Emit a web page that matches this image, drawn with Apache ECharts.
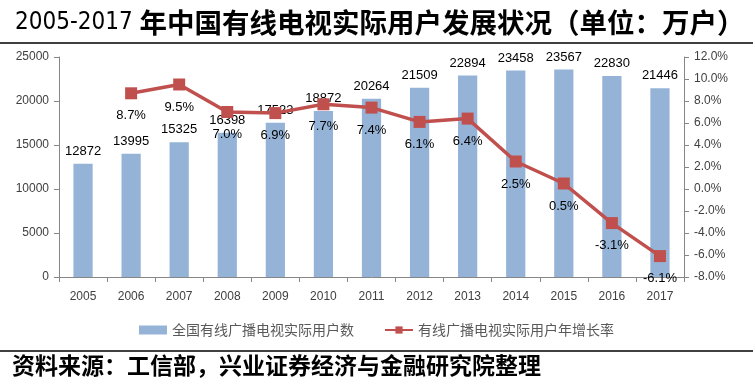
<!DOCTYPE html>
<html>
<head>
<meta charset="utf-8">
<script src="https://cdn.jsdelivr.net/npm/echarts@6/dist/echarts.min.js"></script>
<style>
html,body{margin:0;padding:0;background:#fff;}
#chart{width:753px;height:383px;}
</style>
</head>
<body>
<div id="chart"></div>
<script>
var years = ['2005','2006','2007','2008','2009','2010','2011','2012','2013','2014','2015','2016','2017'];
var users = [12872,13995,15325,16398,17523,18872,20264,21509,22894,23458,23567,22830,21446];
var growth = ['-',8.7,9.5,7.0,6.9,7.7,7.4,6.1,6.4,2.5,0.5,-3.1,-6.1];
var leftTicks = {min:0, max:25000, interval:5000};
var rightTicks = {min:-8, max:12, interval:2};
var titleNum = '2005-2017 ';
var titleText = '年中国有线电视实际用户发展状况（单位：万户）';
var sourceText = '资料来源：工信部，兴业证券经济与金融研究院整理';
var barName = '全国有线广播电视实际用户数';
var lineName = '有线广播电视实际用户年增长率';

var chart = echarts.init(document.getElementById('chart'));
var numFont = '"Liberation Sans", Arial, sans-serif';
var cjkFont = '"Noto Sans CJK SC", sans-serif';
chart.setOption({
  backgroundColor:'#fff',
  animation:false,
  title:{
    left:10, top:4,
    text:'{a|'+titleNum+'}{b|'+titleText+'}',
    textStyle:{
      rich:{
        a:{fontFamily:'"DejaVu Sans Condensed", "Liberation Sans", sans-serif', fontSize:24, fontWeight:'normal', color:'#000'},
        b:{fontFamily:cjkFont, fontSize:27.5, fontWeight:'bold', color:'#000'}
      }
    }
  },
  graphic:[
    {type:'line', shape:{x1:0,y1:43,x2:753,y2:43}, style:{stroke:'#000', lineWidth:1.5}},
    {type:'line', shape:{x1:0,y1:351,x2:753,y2:351}, style:{stroke:'#000', lineWidth:1.5}},
    {type:'text', left:12, top:354, style:{text:sourceText, font:'bold 23px "Noto Sans CJK SC", sans-serif', fill:'#000'}}
  ],
  legend:{
    top:318, left:'center',
    itemWidth:28, itemHeight:9, itemGap:30,
    textStyle:{fontFamily:cjkFont, fontSize:14, color:'#595959'},
    data:[{name:barName, icon:'rect'},{name:lineName}]
  },
  grid:{left:59, right:69, top:57, bottom:106},
  xAxis:{
    type:'category', data:years,
    axisLine:{lineStyle:{color:'#868686'}},
    axisTick:{show:true, alignWithLabel:false, length:5, lineStyle:{color:'#868686'}},
    axisLabel:{fontFamily:numFont, fontSize:12, color:'#404040', margin:14}
  },
  yAxis:[
    {type:'value', min:leftTicks.min, max:leftTicks.max, interval:leftTicks.interval,
     splitLine:{show:false},
     axisLine:{show:true, lineStyle:{color:'#868686'}},
     axisTick:{show:true, length:5, lineStyle:{color:'#868686'}},
     axisLabel:{fontFamily:numFont, fontSize:12, color:'#404040', margin:10,
       formatter:function(v){return String(v);}}},
    {type:'value', min:rightTicks.min, max:rightTicks.max, interval:rightTicks.interval,
     splitLine:{show:false},
     axisLine:{show:true, lineStyle:{color:'#868686'}},
     axisTick:{show:true, length:5, lineStyle:{color:'#868686'}},
     axisLabel:{fontFamily:numFont, fontSize:12, color:'#404040', margin:10,
       formatter:function(v){return v.toFixed(1)+'%';}}}
  ],
  series:[
    {name:barName, type:'bar', data:users, barWidth:'40%', yAxisIndex:0,
     itemStyle:{color:'#95B3D7'},
     label:{show:true, position:'top', distance:6, fontFamily:numFont, fontSize:13, color:'#000'}},
    {name:lineName, type:'line', data:growth, yAxisIndex:1,
     symbol:'rect', symbolSize:12,
     lineStyle:{color:'#C0504D', width:3.5},
     itemStyle:{color:'#C0504D'},
     label:{show:true, position:'bottom', distance:10, fontFamily:numFont, fontSize:13, color:'#000',
       formatter:function(p){return Number(p.value).toFixed(1)+'%';}}}
  ]
});
</script>
</body>
</html>
